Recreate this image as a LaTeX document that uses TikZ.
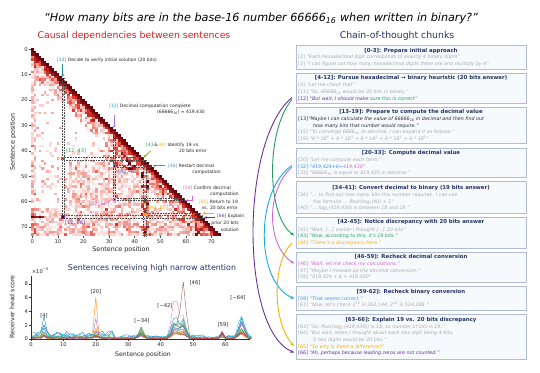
\documentclass[tikz,border=0pt]{standalone}
\usepackage{fontspec}
\setmainfont{DejaVu Sans}
\usetikzlibrary{arrows.meta}
\definecolor{hred}{RGB}{205,35,35}
\definecolor{navy}{RGB}{35,50,100}
\definecolor{boxc}{RGB}{175,190,212}
\definecolor{boxf}{RGB}{247,250,253}
\definecolor{gtext}{RGB}{168,168,168}
\definecolor{dtext}{RGB}{40,40,60}
\definecolor{cpurple}{RGB}{105,50,150}
\definecolor{cgreen}{RGB}{40,155,100}
\definecolor{ccyan}{RGB}{25,170,220}
\definecolor{cmag}{RGB}{205,105,205}
\definecolor{cgold}{RGB}{240,180,0}
\definecolor{cblue}{RGB}{60,150,230}
\definecolor{cteal}{RGB}{40,140,140}
\definecolor{hmred}{RGB}{232,60,45}
\definecolor{hmdark}{RGB}{103,0,13}
\definecolor{tabblue}{RGB}{31,119,180}
\definecolor{taborange}{RGB}{255,127,14}
\definecolor{tabgreen}{RGB}{44,160,44}
\definecolor{tabred}{RGB}{214,39,40}
\definecolor{tabpurple}{RGB}{148,103,189}
\definecolor{tabbrown}{RGB}{140,86,75}
\definecolor{tabpink}{RGB}{227,119,194}
\definecolor{tabgray}{RGB}{127,127,127}
\definecolor{tabolive}{RGB}{188,189,34}
\definecolor{tabcyan}{RGB}{23,190,207}
\begin{document}
\begin{tikzpicture}[x=1pt,y=-1pt,
  declare function={gs(\t,\c,\w)=exp(max(-12,-((\t-\c)*(\t-\c))/\w));},
  tick/.style={font=\fontsize{5.2}{6}\selectfont, text=black!85, inner sep=0.5pt},
  ann/.style={font=\fontsize{4.5}{5.4}\selectfont, text=black!85, inner sep=0pt},
  cbox/.style={draw=boxc, fill=boxf, line width=0.6pt, anchor=north west, minimum width=230pt, inner sep=0pt},
  hdr/.style={font=\fontsize{5.4}{6}\selectfont\bfseries, text=navy, inner sep=0pt},
  ln/.style={font=\fontsize{4.8}{5.6}\selectfont, text=gtext, anchor=west, inner sep=0pt},
  conn/.style={line width=0.9pt, -{Stealth[length=3.5pt,width=3pt]}},
  sarr/.style={line width=0.8pt, -{Stealth[length=2.8pt,width=2.6pt]}},
  strip/.style={draw=black!70, line width=0.35pt, dash pattern=on 0.8pt off 0.8pt},
  hl/.style={line width=0.7pt},
]
\useasboundingbox (0,0) rectangle (540,372);
\fill[white] (0,0) rectangle (540,372);

% titles
\node[font=\fontsize{11.2}{13}\selectfont\itshape, text=black] (title) at (261,18) {“How many bits are in the base-16 number 66666\textsubscript{16} when written in binary?”};
\node[font=\fontsize{9.3}{11}\selectfont, text=hred] (hl1) at (134,36) {Causal dependencies between sentences};
\node[font=\fontsize{9.3}{11}\selectfont, text=navy] (hl2) at (397,36) {Chain-of-thought chunks};

% ---------------- heatmap ----------------
\begin{scope}[shift={(31,48)}, x=2.56pt, y=-2.54pt]
\pgfmathsetseed{12345}
\foreach \i in {0,...,73}{
 \foreach \j in {0,...,\i}{
  \pgfmathtruncatemacro{\hd}{\i-\j}
  \pgfmathsetmacro{\ra}{rnd}
  \pgfmathsetmacro{\rb}{rnd}
  \ifnum\hd=0 \def\hv{1}\else
  \ifnum\hd=1 \def\hv{0.95}\else
  \ifnum\hd=2 \pgfmathsetmacro{\hv}{0.55+0.35*\ra}\else
  \ifnum\hd<6 \pgfmathsetmacro{\hv}{(\ra>0.2)*(0.08+0.7*\ra*\ra)}\else
    \pgfmathsetmacro{\hbase}{(\ra>0.84)*(\ra-0.8)*1.6}
    \pgfmathsetmacro{\hreg}{and(\i>=44,\i<=62)*and(\j>=15,\j<=45)*0.3 + (\j<=1)*0.3 + and(\j>=43,\j<=45)*(\i>=45)*0.6 + (\i>=63)*0.35 + (\hd<=9)*0.45 + and(\i>=40,\i<=48)*(\hd<=14)*0.4}
    \pgfmathsetmacro{\hv}{min(1,\hbase + \hreg*\rb*\rb + and(\i==66,\j<=4)*0.8)}
  \fi\fi\fi\fi
  \ifdim\hv pt>0.05pt
    \pgfmathtruncatemacro{\hpa}{max(0,min(100,\hv/0.6*100))}
    \pgfmathtruncatemacro{\hpb}{max(0,min(100,(\hv-0.6)/0.4*100))}
    \colorlet{hcc}{hmred!\hpa!white}
    \fill[hmdark!\hpb!hcc] (\j,\i) rectangle ++(1.05,1.05);
  \fi
 }
}
% dashed strips
\draw[strip] (12,12) rectangle (13,67);
\draw[strip] (12,43) rectangle (44,44);
\draw[strip] (12,66) rectangle (67,67);
\draw[strip] (32,32) rectangle (33,60);
\draw[strip] (32,46) rectangle (47,47);
\draw[strip] (32,59) rectangle (60,60);
\draw[strip] (44,44) rectangle (45,74);
\draw[strip] (44,65) rectangle (66,66);
% highlighted cells
\draw[hl, draw=cgreen, fill=hmred] (12,43) rectangle ++(1,1);
\draw[hl, draw=cblue, fill=hmdark] (32,46) rectangle ++(1,1);
\draw[hl, draw=cmag, fill=hmdark] (32,59) rectangle ++(1,1);
\draw[hl, draw=cgold, fill=taborange] (44,65) rectangle ++(1,1);
\draw[hl, draw=cpurple, fill=hmdark] (12,66) rectangle ++(1,1);
% axes ticks
\foreach \k in {0,10,...,70}{
  \draw[black!70, line width=0.4pt] (-0.9,\k+0.5) -- (0,\k+0.5);
  \node[tick, anchor=east] (yt\k) at (-1,\k+0.5) {\k};
  \draw[black!70, line width=0.4pt] (\k+0.5,74) -- (\k+0.5,74.9);
  \node[tick, anchor=north] (xt\k) at (\k+0.5,75.2) {\k};
}
\end{scope}
\node[font=\fontsize{6.4}{7}\selectfont, text=black!85] (hmx) at (121,250) {Sentence position};
\node[font=\fontsize{6.4}{7}\selectfont, text=black!85, rotate=90] (hmy) at (13,142) {Sentence position};

% cell labels
\node[ann, anchor=west, text=cgreen, font=\fontsize{5}{6}\selectfont] (c1243) at (66,151) {[12, 43]};
\node[ann, anchor=west, text=cblue, font=\fontsize{5}{6}\selectfont] (c3246) at (118,172.3) {[32, 46]};
\node[ann, anchor=west, text=cmag, font=\fontsize{5}{6}\selectfont] (c3259) at (89,204.3) {[32, 59]};
\node[ann, anchor=west, text=cgold, font=\fontsize{5}{6}\selectfont] (c4465) at (148,208.3) {[44, 65]};
\node[ann, anchor=west, text=cpurple, font=\fontsize{5}{6}\selectfont] (c1266) at (65,223.3) {[12, 66]};

% annotations
\node[ann, anchor=west] (a12) at (57,60) {\textcolor{cteal}{[12]} Decide to verify initial solution (20 bits)};
\coordinate (a12s) at (62.7,64);
\coordinate (a12e) at (62.7,77);
\draw[sarr, cteal] (a12s) -- (a12e);
\node[ann, anchor=west] (a32) at (109,106) {\textcolor{ccyan}{[32]} Decimal computation complete};
\node[ann, anchor=east] (a32b) at (205,112) {(66666\textsubscript{16}) = 419,430};
\coordinate (a32s) at (114,115);
\coordinate (a32e) at (114,128);
\draw[sarr, cmag!80!cblue] (a32s) -- (a32e);
\node[ann, anchor=west] (a43) at (146,145) {\textcolor{cgreen}{[43}\,\&\,\textcolor{cgold}{44]} Identify 19 vs.};
\node[ann, anchor=east] (a43b) at (207,151.3) {20 bits error};
\coordinate (a43s) at (150.5,151);
\coordinate (a43e) at (143.5,157.5);
\draw[sarr, cgreen!50!cgold] (a43s) -- (a43e);
\node[ann, anchor=west] (a46) at (168,165.7) {\textcolor{cblue}{[46]} Restart decimal};
\node[ann, anchor=east] (a46b) at (221,172.3) {computation};
\coordinate (a46s) at (165,165.7);
\coordinate (a46e) at (153,165.7);
\draw[sarr, cblue] (a46s) -- (a46e);
\node[ann, anchor=west] (a59) at (183,187.7) {\textcolor{cmag}{[59]} Confirm decimal};
\node[ann, anchor=east] (a59b) at (239,194) {computation};
\coordinate (a59s) at (192,196);
\coordinate (a59e) at (185,200.5);
\draw[sarr, cmag] (a59s) |- (a59e);
\node[ann, anchor=west] (a65) at (199,202.3) {\textcolor{cgold}{[65]} Return to 19};
\node[ann, anchor=east] (a65b) at (238,208.3) {vs. 20 bits error};
\coordinate (a65s) at (214,213.3);
\coordinate (a65e) at (202.5,213.3);
\draw[sarr, cgold] (a65s) -- (a65e);
\node[ann, anchor=west] (a66) at (217,216.7) {\textcolor{cpurple}{[66]} Explain};
\node[ann, anchor=east] (a66b) at (239,223.3) {prior 20 bits};
\node[ann, anchor=east] (a66c) at (239,229.5) {solution};
\coordinate (a66s) at (215,217.5);
\coordinate (a66e) at (204,217.5);
\draw[sarr, cpurple] (a66s) -- (a66e);

% ---------------- bottom plot ----------------
\node[font=\fontsize{7.9}{9}\selectfont, text=navy] (pt) at (152,268) {Sentences receiving high narrow attention};
\begin{scope}[shift={(31,339)}, x=3.24pt, y=6.9pt]
\pgfmathsetseed{777}
\foreach \c/\qa/\qb/\qc/\qd/\qe/\qf/\qg/\qh in {
 tabblue/1.3/2.3/0.3/0.5/2.8/1.5/0.3/3.0,
 taborange/0.5/0.5/5.8/1.2/0.8/0.6/0.5/1.5,
 tabgreen/0.4/0.8/0.6/1.0/2.2/1.8/0.4/2.0,
 tabred/0.3/0.5/0.4/1.5/1.0/0.8/1.1/1.6,
 tabpurple/0.5/1.2/2.6/0.6/1.5/1.0/0.6/3.5,
 tabbrown/0.3/0.3/0.2/1.7/2.0/8.1/0.6/1.8,
 tabpink/0.4/0.6/0.8/0.5/6.0/3.0/0.8/3.0,
 tabgray/0.3/0.4/0.3/0.8/1.2/0.8/0.5/1.2,
 tabolive/0.4/0.4/0.6/1.6/0.9/1.2/0.3/2.2,
 tabcyan/0.9/1.8/1.0/0.8/2.5/2.8/0.6/4.8,
 tabblue/1.1/1.5/0.4/0.6/2.0/1.8/0.4/2.5,
 tabcyan/0.8/1.2/0.3/1.2/1.6/1.2/0.2/4.0,
 tabgreen/0.3/0.3/0.2/0.7/1.4/2.6/0.3/1.5,
 taborange/0.3/0.3/1.5/1.0/0.7/0.9/0.5/1.0,
 tabpurple/0.3/0.5/0.5/0.4/1.2/2.2/0.4/2.8,
 tabred/0.3/0.2/0.3/0.5/0.8/0.6/0.9/1.4}{
  \draw[\c, line width=0.35pt, line join=round] plot[domain=0:68, samples=69] (\x,{max(0,\qa*(0.1+0.9*rnd)*(1-0.5*(\x>25)) + \qb*gs(\x,4,0.5) + \qc*gs(\x,20,0.35) + \qd*gs(\x,34,0.9) + \qe*gs(\x,44.5,2) + \qf*gs(\x,47,1.2) + \qg*gs(\x,59,0.5) + \qh*gs(\x,65,1.3)*(0.5+0.5*rnd))});
}
\draw[black!80, line width=0.4pt] (0,9.1) -- (0,0) -- (67.6,0);
\foreach \k in {0,2,4,6,8}{
  \draw[black!80, line width=0.4pt] (-0.6,\k) -- (0,\k);
  \node[tick, anchor=east] (pyt\k) at (-0.7,\k) {\k};
}
\foreach \k in {0,10,...,60}{
  \draw[black!80, line width=0.4pt] (\k,0) -- (\k,-0.3);
  \node[tick, anchor=north] (pxt\k) at (\k,-0.4) {\k};
}
\node[tick, anchor=west] (pmul) at (0.05,9.9) {×10\textsuperscript{−3}};
\end{scope}
\node[font=\fontsize{6.2}{7}\selectfont, text=black!85] (px) at (143,355) {Sentence position};
\node[font=\fontsize{6.2}{7}\selectfont, text=black!85, rotate=90] (py) at (12,307) {Receiver head score};
\node[tick] (p4) at (44,316) {[4]};
\node[tick] (p20) at (96,292) {[20]};
\node[tick] (p34) at (142,321) {[∼34]};
\node[tick] (p42) at (165,306) {[∼42]};
\node[tick] (p46) at (195,283) {[46]};
\node[tick] (p59) at (223,325) {[59]};
\node[tick] (p64) at (238,298) {[∼64]};

% ---------------- chunk boxes ----------------
\node[cbox, minimum height=24pt] (b1) at (296,45) {};
\node[hdr] (h1) at (411,51) {[0-3]: Prepare initial approach};
\node[ln] (l2) at (298,57.3) {[2] \textit{“Each hexadecimal digit corresponds to exactly 4 binary digits”}};
\node[ln] (l3) at (298,64) {[3] \textit{“I can figure out how many hexadecimal digits there are and multiply by 4”}};

\node[cbox, minimum height=30pt] (b2) at (296,73) {};
\node[hdr] (h2) at (411,77.7) {[4-12]: Pursue hexadecimal → binary heuristic (20 bits answer)};
\node[ln] (l4) at (298,85) {[4] \textit{“Let me check that”}};
\node[ln] (l11) at (298,91.7) {[11] \textit{“So, 66666\textsubscript{16} would be 20 bits in binary.”}};
\node[ln, text=cpurple] (l12) at (298,98.7) {[12] \textit{“But wait, I should make \textcolor{cgreen}{sure this is correct”}}};

\node[cbox, minimum height=36pt] (b3) at (296,107) {};
\node[hdr] (h3) at (411,112) {[13-19]: Prepare to compute the decimal value};
\node[ln, text=dtext] (l13) at (298,119) {[13]\textit{“Maybe I can calculate the value of 66666\textsubscript{16} in decimal and then find out}};
\node[ln, text=dtext] (l13b) at (313,125.7) {\textit{how many bits that number would require.”}};
\node[ln] (l15) at (298,132.3) {[15] \textit{“To converge 6666\textsubscript{16} to decimal, I can expand it as follows:”}};
\node[ln] (l19) at (298,139) {[19] \textit{“6 * 16\textsuperscript{4} + 6 * 16\textsuperscript{3} + 6 * 16\textsuperscript{2} + 6 * 16\textsuperscript{1} + 6 * 16\textsuperscript{0}”}};

\node[cbox, minimum height=29pt] (b4) at (296,148) {};
\node[hdr] (h4) at (411,153.3) {[20-33]: Compute decimal value};
\node[ln] (l20) at (298,160) {[20] \textit{“Let me compute each term:”}};
\node[ln, text=cblue] (l32) at (298,166.7) {[32] \textit{“419,424+6=\textcolor{cmag}{419,430”}}};
\node[ln] (l33) at (298,173.3) {[33] \textit{“66666\textsubscript{16} is equal to 419,430 in decimal.”}};

\node[cbox, minimum height=32pt] (b5) at (296,181) {};
\node[hdr] (h5) at (411,187.7) {[34-41]: Convert decimal to binary (19 bits answer)};
\node[ln] (l34) at (298,195) {[34] \textit{“... to find out how many bits this number requires. I can use}};
\node[ln] (l34b) at (313,201.7) {\textit{the formula ... floor(log\textsubscript{2}(N)) + 1”}};
\node[ln] (l40) at (298,208.3) {[40] \textit{“... log\textsubscript{2}(419,430) is between 18 and 19.”}};

\node[cbox, minimum height=31pt] (b6) at (296,217) {};
\node[hdr] (h6) at (411,222.3) {[42-45]: Notice discrepancy with 20 bits answer};
\node[ln] (l42) at (298,229.7) {[42] \textit{“Wait, [...] earlier I thought [...] 20 bits”}};
\node[ln, text=cgreen] (l43) at (298,236.3) {[43] \textit{“Now, according to this, it’s 19 bits.”}};
\node[ln, text=cgold] (l44) at (298,243) {[44] \textit{“There’s a discrepancy here.”}};

\node[cbox, minimum height=30pt] (b7) at (296,252) {};
\node[hdr] (h7) at (411,256.7) {[46-59]: Recheck decimal conversion};
\node[ln, text=cmag] (l46) at (298,264) {[46] \textit{“Wait, let me check my calculations.”}};
\node[ln] (l47) at (298,270.7) {[47] \textit{“Maybe I messed up the decimal conversion.”}};
\node[ln] (l58) at (298,277.3) {[58] \textit{“419,424 + 6 = 419,430”}};

\node[cbox, minimum height=24pt] (b8) at (296,286) {};
\node[hdr] (h8) at (411,291.7) {[59-62]: Recheck binary conversion};
\node[ln, text=cblue] (l59) at (298,298.7) {[59] \textit{“That seems correct.”}};
\node[ln] (l61) at (298,305) {[61] \textit{“Now, let’s check 2\textsuperscript{18} is 262,144, 2\textsuperscript{19} is 524,288.”}};

\node[cbox, minimum height=45pt] (b9) at (296,314) {};
\node[hdr] (h9) at (411,320) {[63-66]: Explain 19 vs. 20 bits discrepancy};
\node[ln] (l63) at (298,326.7) {[63] \textit{“So, floor(log\textsubscript{2}(419,430)) is 18, so number of bits is 19.”}};
\node[ln] (l64) at (298,333.3) {[64] \textit{“But wait, when I thought about each hex digit being 4 bits,}};
\node[ln] (l64b) at (313,340) {\textit{5 hex digits would be 20 bits.”}};
\node[ln, text=cgold] (l65) at (298,346.7) {[65] \textit{“So why is there a difference?”}};
\node[ln, text=cpurple] (l66) at (298,353.3) {[66] \textit{“Ah, perhaps because leading zeros are not counted.”}};

% connectors
\coordinate (s12) at (292,97.5);
\coordinate (s12g) at (292,99.5);
\coordinate (s32) at (292,165.5);
\coordinate (s32m) at (292,167);
\coordinate (s44) at (292,243);
\coordinate (e66) at (294,352.5);
\coordinate (e43) at (294,235.5);
\coordinate (e59) at (294,298.5);
\coordinate (e46) at (294,263.5);
\coordinate (e65) at (294,346);
\draw[conn, cpurple] (s12) .. controls (240,140) and (240,330) .. (e66);
\draw[conn, cgreen] (s12g) .. controls (266,130) and (266,215) .. (e43);
\draw[conn, ccyan] (s32) .. controls (255,190) and (255,282) .. (e59);
\draw[conn, cmag] (s32m) .. controls (266,190) and (266,245) .. (e46);
\draw[conn, cgold] (s44) .. controls (272,262) and (272,322) .. (e65);
\end{tikzpicture}
\end{document}
